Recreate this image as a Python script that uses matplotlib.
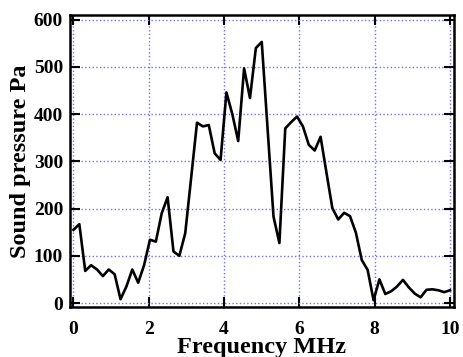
import matplotlib.pyplot as plt
import numpy as np

# frequency grid (MHz), 65 samples from 0 to 10
freq = np.linspace(0, 10, 65)
pressure = np.array([155, 167, 68, 80, 71, 57, 71, 61, 8, 35,
                     71, 43, 80, 134, 130, 190, 224, 109, 100, 148,
                     265, 382, 374, 377, 317, 303, 446, 400, 343, 497,
                     434, 540, 553, 368, 183, 127, 370, 383, 395, 374,
                     335, 323, 352, 276, 201, 177, 191, 184, 149, 91,
                     70, 6, 50, 19, 25, 35, 49, 33, 20, 12,
                     28, 29, 27, 23, 27])
xticks = [0, 2, 4, 6, 8, 10]
yticks = [0, 100, 200, 300, 400, 500, 600]

plt.rcParams['font.family'] = ['Liberation Serif', 'DejaVu Serif']
plt.rcParams['font.weight'] = 'bold'

fig = plt.figure(figsize=(4.64, 3.57), dpi=100)
ax = fig.add_axes([0.151, 0.14, 0.827, 0.818])

ax.plot(freq, pressure, color='black', linewidth=1.9)

ax.set_xlim(-0.09, 10.1)
ax.set_ylim(-8.5, 610)
ax.set_xticks(xticks)
ax.set_yticks(yticks)
ax.grid(color='#7070ff', linestyle=':', linewidth=1)
ax.tick_params(direction='in', length=7, width=1.5, top=True, right=True,
               labelsize=14)
ax.tick_params(axis='x', pad=10)
ax.tick_params(axis='y', pad=5)
for lbl in ax.get_xticklabels() + ax.get_yticklabels():
    lbl.set_fontweight('bold')
for s in ax.spines.values():
    s.set_linewidth(1.8)

ax.set_xlabel("Frequency MHz", fontsize=17.5, fontweight='bold', labelpad=-1)
ax.set_ylabel("Sound pressure Pa", fontsize=17.5, fontweight='bold', labelpad=2)

fig.savefig("out.png", dpi=100)
